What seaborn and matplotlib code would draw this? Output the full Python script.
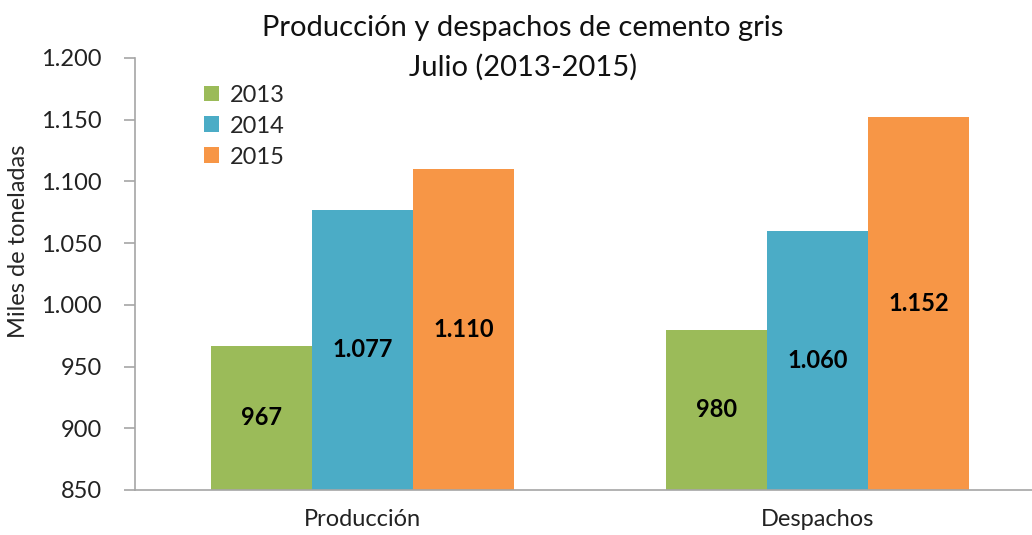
import numpy as np
import pandas as pd
import matplotlib
matplotlib.use("Agg")
import matplotlib.pyplot as plt
import seaborn as sns

categories = ["Producción", "Despachos"]
years = ["2013", "2014", "2015"]
values_2013 = [967, 980]
values_2014 = [1077, 1060]
values_2015 = [1110, 1152]
value_labels = {"2013": ["967", "980"], "2014": ["1.077", "1.060"], "2015": ["1.110", "1.152"]}
y_ticks = [850, 900, 950, 1000, 1050, 1100, 1150, 1200]
y_tick_labels = ["850", "900", "950", "1.000", "1.050", "1.100", "1.150", "1.200"]
colors = ["#9BBB59", "#4BACC6", "#F79646"]

df = pd.DataFrame({
    "cat": categories * 3,
    "year": [y for y in years for _ in categories],
    "val": values_2013 + values_2014 + values_2015,
})

sns.set_style("white")
plt.rcParams["font.family"] = ["Lato", "DejaVu Sans"]

fig = plt.figure(figsize=(10.32, 5.35), dpi=100)
ax = fig.add_axes([135 / 1032, 45 / 535, 910 / 1032, 432 / 535])

sns.barplot(data=df, x="cat", y="val", hue="year", palette=colors,
            width=0.667, saturation=1, ax=ax, edgecolor="none")

ax.set_ylim(850, 1200)
ax.set_xlim(-0.5, 1.5)
ax.set_yticks(y_ticks)
ax.set_yticklabels(y_tick_labels, fontsize=17, color="#222222")
ax.set_xticks([0, 1])
ax.set_xticklabels(categories, fontsize=17, color="#222222")
ax.set_xticks([0.5], minor=True)
ax.tick_params(axis="x", which="major", length=0, pad=14)
ax.tick_params(axis="x", which="minor", length=7, color="#A6A6A6", width=1.2)
ax.tick_params(axis="y", length=8, color="#A6A6A6", width=1.2, pad=16, direction="out", left=True)
ax.set_xlabel("")
ax.set_ylabel("Miles de toneladas", fontsize=17, va="center")
ax.yaxis.set_label_coords(-0.128, 0.576)

for s in ["top", "right"]:
    ax.spines[s].set_visible(False)
for s in ["left", "bottom"]:
    ax.spines[s].set_color("#A6A6A6")
    ax.spines[s].set_linewidth(1.2)

for cont, yr in zip(ax.containers, years):
    for patch, lab in zip(cont.patches, value_labels[yr]):
        xc = patch.get_x() + patch.get_width() / 2
        yc = (850 + patch.get_height()) / 2
        ax.text(xc, yc, lab, ha="center", va="center", fontsize=17,
                fontweight="bold", color="black")

leg = ax.legend(loc="upper left", bbox_to_anchor=(0.065, 0.96), frameon=False,
                fontsize=17, handlelength=0.65, handleheight=0.65,
                handletextpad=0.45, labelspacing=0.42, borderaxespad=0)

fig.text(523 / 1032, 1 - 28 / 535, "Producción y despachos de cemento gris",
         ha="center", va="center", fontsize=21, color="#111111")
fig.text(523 / 1032, 1 - 67 / 535, "Julio (2013-2015)",
         ha="center", va="center", fontsize=21, color="#111111")

fig.savefig("out.png", dpi=100)
